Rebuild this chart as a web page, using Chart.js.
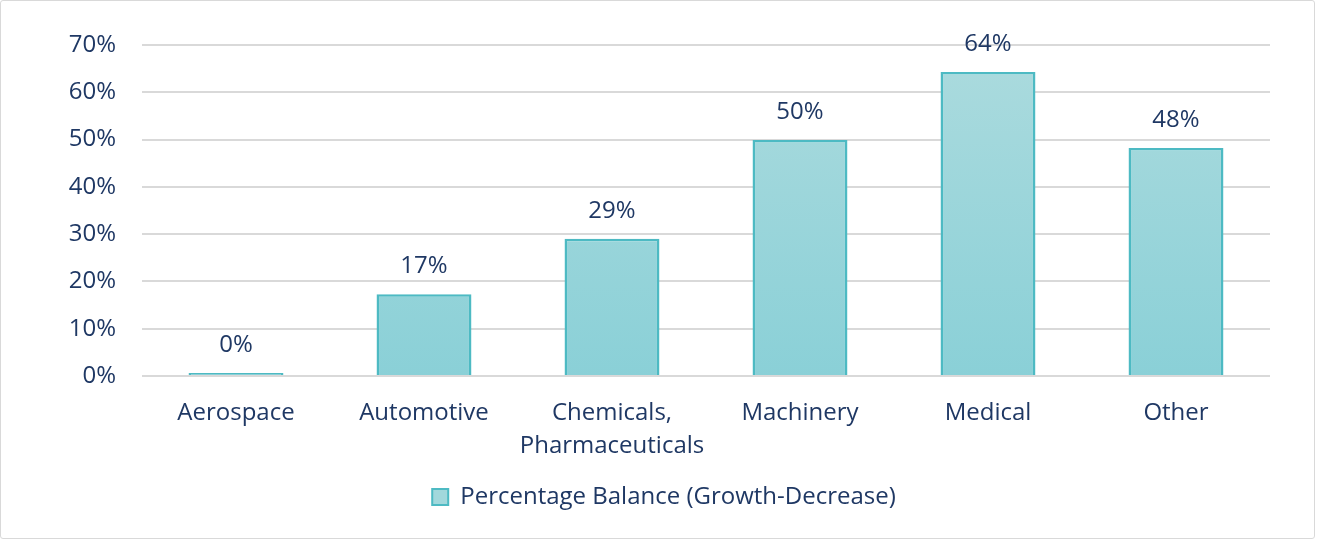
<!DOCTYPE html>
<html>
<head>
<meta charset="utf-8">
<script src="https://cdn.jsdelivr.net/npm/chart.js@4/dist/chart.umd.min.js"></script>
<style>
  html, body { margin: 0; padding: 0; background: #fff; }
  #wrap { position: relative; width: 1317px; height: 541px; }
  #wrap::after {
    content: ''; position: absolute; left: 0; top: 0; right: 2px; bottom: 2px;
    border: 1px solid #d9d9d9; border-radius: 3px; pointer-events: none;
  }
</style>
</head>
<body>
<div id="wrap"><canvas id="chart" width="1317" height="541"></canvas></div>
<script>
// data
const categories = ['Aerospace', 'Automotive', ['Chemicals,', 'Pharmaceuticals'], 'Machinery', 'Medical', 'Other'];
const balance = [0.4, 17.3, 29.0, 49.9, 64.3, 48.2];
const seriesName = 'Percentage Balance (Growth-Decrease)';
const yTicks = [0, 10, 20, 30, 40, 50, 60, 70];

const navy = '#1f3864';
const fontFamily = '"Open Sans", Lato, sans-serif';
const fontSize = 24;

// little inline replacement for the datalabels plugin
const valueLabels = {
  id: 'valueLabels',
  afterDatasetsDraw(chart) {
    const ctx = chart.ctx;
    const meta = chart.getDatasetMeta(0);
    ctx.save();
    ctx.font = fontSize + 'px ' + fontFamily;
    ctx.fillStyle = navy;
    ctx.textAlign = 'center';
    ctx.textBaseline = 'middle';
    meta.data.forEach((bar, i) => {
      ctx.fillText(Math.round(balance[i]) + '%', bar.x, bar.y - 28);
    });
    ctx.restore();
  }
};

function barGradient(context) {
  const area = context.chart.chartArea;
  if (!area) return '#9ad5da';
  const g = context.chart.ctx.createLinearGradient(0, area.top, 0, area.bottom);
  g.addColorStop(0, '#acdbde');
  g.addColorStop(1, '#8ad0d7');
  return g;
}

new Chart(document.getElementById('chart'), {
  type: 'bar',
  plugins: [valueLabels],
  data: {
    labels: categories,
    datasets: [{
      label: seriesName,
      data: balance,
      backgroundColor: barGradient,
      borderColor: '#4dbac3',
      borderWidth: 2.5,
      borderSkipped: 'bottom',
      minBarLength: 3,
      categoryPercentage: 1,
      barPercentage: 0.505,
    }],
  },
  options: {
    responsive: false,
    animation: false,
    layout: { padding: { top: 45, right: 47, bottom: 22, left: 58 } },
    plugins: {
      tooltip: { enabled: false },
      legend: {
        position: 'bottom',
        labels: {
          color: navy,
          font: { family: fontFamily, size: fontSize },
          boxWidth: 16,
          boxHeight: 16,
          padding: 8,
          generateLabels: (chart) => [{
            text: seriesName,
            fillStyle: '#a2d8dc',
            strokeStyle: '#4dbac3',
            lineWidth: 2,
            fontColor: navy,
            datasetIndex: 0,
          }],
        },
      },
    },
    scales: {
      x: {
        grid: { display: false },
        border: { display: false },
        ticks: {
          color: navy,
          font: { family: fontFamily, size: fontSize, lineHeight: 1.4 },
          padding: 12,
          maxRotation: 0,
        },
        afterFit: (scale) => { scale.height = 101; },
      },
      y: {
        min: 0,
        max: 70,
        grid: { color: '#d9d9d9', lineWidth: 2, drawTicks: false },
        border: { display: false },
        afterBuildTicks: (scale) => { scale.ticks = yTicks.map(v => ({ value: v })); },
        afterFit: (scale) => { scale.width = 84; },
        ticks: {
          color: navy,
          font: { family: fontFamily, size: fontSize },
          padding: 26,
          callback: (v) => v + '%',
        },
      },
    },
  },
});
</script>
</body>
</html>
